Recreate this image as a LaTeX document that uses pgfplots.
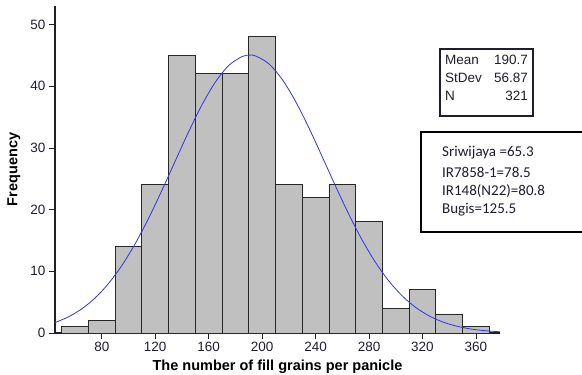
\documentclass[border=0pt]{standalone}
\usepackage{pgfplots}
\pgfplotsset{compat=1.18}
\usepackage{fontspec}
\setmainfont{Liberation Sans}
\newfontfamily\calibri{Carlito}
\definecolor{barfill}{RGB}{192,192,192}
\definecolor{baredge}{RGB}{40,40,40}
\definecolor{curvec}{RGB}{50,50,235}
\definecolor{tickc}{RGB}{30,30,45}
\begin{document}
\begin{tikzpicture}[x=1pt,y=1pt]
\useasboundingbox (0,0) rectangle (582,375);
\clip (0,0) rectangle (582,375);
\begin{axis}[
  at={(55pt,42pt)}, anchor=south west,
  scale only axis, width=445pt, height=327pt,
  xmin=45, xmax=378, ymin=0, ymax=53,
  axis lines*=left,
  axis line style={-, line width=1.1pt, color=tickc},
  xtick={80,120,...,360}, ytick={0,10,...,50},
  tick align=outside, major tick length=6pt,
  tick style={tickc, line width=0.8pt},
  ticklabel style={font=\fontsize{13.5}{15}\selectfont, text=tickc},
  /pgf/number format/assume math mode=true,
  xlabel={\bfseries The number of fill grains per panicle},
  ylabel={\bfseries Frequency},
  xlabel style={at={(axis description cs:0.5,-0.104)}, anchor=center, font=\fontsize{14.5}{16}\selectfont, text=black},
  ylabel style={at={(axis description cs:-0.0921,0.5)}, anchor=center, font=\fontsize{14.5}{16}\selectfont, text=black},
  clip=false,
]
\addplot[ybar interval, fill=barfill, draw=baredge, line width=0.9pt] coordinates {
  (50,1) (70,2) (90,14) (110,24) (130,45) (150,42) (170,42) (190,48)
  (210,24) (230,22) (250,24) (270,18) (290,4) (310,7) (330,3) (350,1) (370,1)
};
\addplot[curvec, line width=0.8pt, smooth, no marks] coordinates {
  (45,1.69) (55,2.61) (65,3.91) (75,5.68) (85,8.01) (95,10.93) (105,14.47)
  (115,18.57) (125,23.11) (135,27.88) (145,32.61) (155,36.99) (165,40.67)
  (175,43.36) (185,44.81) (190.7,45.04) (195,44.91) (205,43.64) (215,41.11)
  (225,37.55) (235,33.25) (245,28.55) (255,23.77) (265,19.18) (275,15.01)
  (285,11.39) (295,8.38) (305,5.98) (315,4.13) (325,2.77) (335,1.80)
  (345,1.14) (355,0.69) (365,0.41) (375,0.24) (378,0.20)
};
\end{axis}
% stats box
\draw[tickc, line width=1.2pt] (440,259) rectangle (533,326);
\begin{scope}[every node/.style={font=\fontsize{13.5}{15}\selectfont, text=tickc, inner sep=0pt}]
\node[anchor=west] at (445,315) {Mean};
\node[anchor=east] at (528,315) {190.7};
\node[anchor=west] at (445,297) {StDev};
\node[anchor=east] at (528,297) {56.87};
\node[anchor=west] at (445,279) {N};
\node[anchor=east] at (528,279) {321};
\end{scope}
% variety box
\draw[black, line width=2pt] (421,143) rectangle (600,243);
\begin{scope}[every node/.style={font=\calibri\fontsize{15}{17}\selectfont, text=tickc, inner sep=0pt, anchor=west}]
\node at (442,222) {Sriwijaya =65.3};
\node at (442,203) {IR7858-1=78.5};
\node at (442,184) {IR148(N22)=80.8};
\node at (442,165) {Bugis=125.5};
\end{scope}
\end{tikzpicture}
\end{document}
